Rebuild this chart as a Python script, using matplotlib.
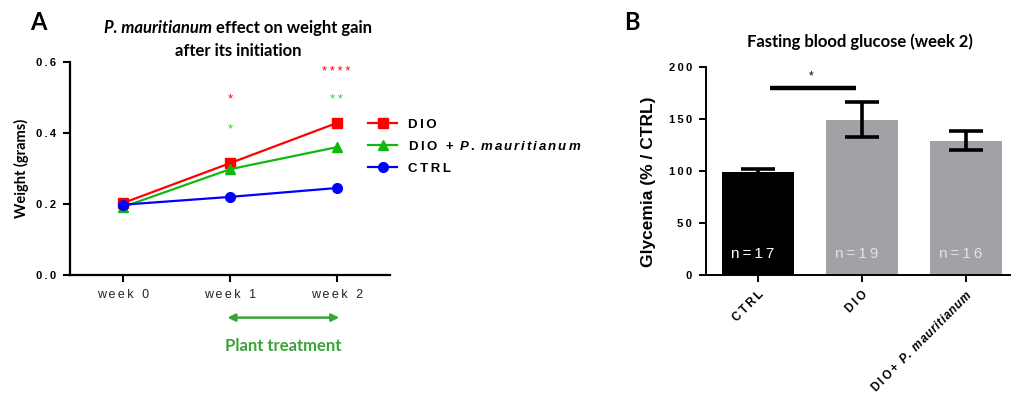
import matplotlib
matplotlib.use("Agg")
import matplotlib.pyplot as plt


# Fonts

plt.rcParams["font.family"] = ["Liberation Sans", "DejaVu Sans"]
plt.rcParams["mathtext.fontset"] = "custom"
plt.rcParams["mathtext.rm"] = "Liberation Sans:bold"
plt.rcParams["mathtext.it"] = "Liberation Sans:bold:italic"

title_font = ["Lato", "DejaVu Sans"]


# Panel A data: weight gain

weeks = ["week 0", "week 1", "week 2"]
dio_weight = [0.203, 0.315, 0.428]
dio_plant_weight = [0.192, 0.298, 0.360]
ctrl_weight = [0.198, 0.220, 0.245]

# significance marks (week index, height, text)
dio_stars = [(1, 0.495, "*"), (2, 0.572, "****")]
plant_stars = [(1, 0.410, "*"), (2, 0.493, "**")]


# Panel B data: fasting blood glucose

groups = ["CTRL", "DIO", "DIO+ P. mauritianum"]
glycemia = [99.0, 149.5, 129.0]
glycemia_err = [2.5, 17.0, 9.0]
n_mice = [17, 19, 16]


def spaced(text, gap="\u2009"):
    return gap.join(text)


def spaced_italic(text, gap=r"\hspace{0.07}"):
    # italic letter-spaced run inside mathtext
    words = [gap.join(w) for w in text.split(" ")]
    return r"$\mathit{" + r"\ ".join(words) + "}$"


red = "#ff0000"
green = "#10b810"
blue = "#0000ff"
star_green = "#33cc33"
bar_grey = "#a2a2a6"
plant_green = "#3ba33a"


fig = plt.figure(figsize=(10.11, 3.96), dpi=100)

W, H = 1011, 396


def px_axes(left, top, right, bottom):
    return fig.add_axes([
        left / W,
        1 - bottom / H,
        (right - left) / W,
        (bottom - top) / H
    ])


# Panel A

ax = px_axes(70, 62, 390, 275)

x = range(len(weeks))

ax.plot(x, dio_weight, color=red, marker="s", markersize=7,
        linewidth=1.6, label=spaced("DIO"), zorder=3)
ax.plot(x, dio_plant_weight, color=green, marker="^", markersize=7.5,
        linewidth=1.6,
        label=spaced("DIO + ") + spaced_italic("P. mauritianum",
                                               gap=r"\,"),
        zorder=3)
ax.plot(x, ctrl_weight, color=blue, marker="o", markersize=7,
        linewidth=1.6, label=spaced("CTRL"), zorder=4)

for i, y, s in dio_stars:
    ax.text(i, y, spaced(s), color=red, ha="center", va="center",
            fontsize=9.5)
for i, y, s in plant_stars:
    ax.text(i, y, spaced(s), color=star_green, ha="center",
            va="center", fontsize=9.5)

ax.set_xlim(-0.5, 2.5)
ax.set_ylim(0, 0.6)
ax.set_xticks(list(x))
ax.set_xticklabels([spaced(w) for w in weeks], fontsize=9,
                   color="#222222")
ax.set_yticks([0, 0.2, 0.4, 0.6])
ax.set_yticklabels([spaced(f"{v:.1f}") for v in [0, 0.2, 0.4, 0.6]],
                   fontsize=8, fontweight="bold")

for side in ["top", "right"]:
    ax.spines[side].set_visible(False)
for side in ["left", "bottom"]:
    ax.spines[side].set_linewidth(1.6)
ax.tick_params(width=1.5, length=5, pad=5)

ax.legend(loc="upper left", bbox_to_anchor=(0.895, 0.79),
          frameon=False, handlelength=2.2,
          prop={"weight": "bold", "size": 9.5}, labelspacing=0.7)

# Plant treatment arrow

ax.annotate(
    "",
    xy=(2.05, -0.20),
    xytext=(0.95, -0.20),
    xycoords=ax.get_xaxis_transform(),
    textcoords=ax.get_xaxis_transform(),
    arrowprops=dict(arrowstyle="<|-|>", color=plant_green, lw=1.8,
                    mutation_scale=11),
    annotation_clip=False
)
ax.text(1.5, -0.335, "Plant treatment", color=plant_green,
        transform=ax.get_xaxis_transform(), ha="center", va="center",
        fontsize=12, fontweight="bold", family=title_font)

fig.text(21 / W, 1 - 168 / H, "Weight (grams)", rotation=90,
         ha="center", va="center", fontsize=10.5, fontweight="bold",
         family=title_font)

# two-style first title line: italic species name, then plain text
title_size = 12
t1 = fig.text(0, 1 - 28 / H, "P. mauritianum", ha="left",
              va="center", fontsize=title_size, fontweight="bold",
              style="italic", family=title_font)
t2 = fig.text(0, 1 - 28 / H, " effect on weight gain", ha="left",
              va="center", fontsize=title_size, fontweight="bold",
              family=title_font)
fig.canvas.draw()
w1 = t1.get_window_extent().width
w2 = t2.get_window_extent().width
start = 238 - (w1 + w2) / 2
t1.set_x(start / W)
t2.set_x((start + w1) / W)

fig.text(238 / W, 1 - 51 / H, "after its initiation", ha="center",
         va="center", fontsize=title_size, fontweight="bold",
         family=title_font)

fig.text(38 / W, 1 - 22 / H, "A", ha="center", va="center",
         fontsize=17, fontweight="bold", family=title_font)


# Panel B

bx = px_axes(706, 67, 1018, 275)

positions = range(len(groups))
colors = ["black", bar_grey, bar_grey]

bx.bar(positions, glycemia, width=0.69, color=colors, zorder=2)
bx.errorbar(positions, glycemia, yerr=glycemia_err, fmt="none",
            ecolor="black", elinewidth=2.6, capsize=12, capthick=2.6,
            zorder=3)

n_colors = ["white", "#e2e2e2", "#e2e2e2"]
for i, n in enumerate(n_mice):
    bx.text(i - 0.05, 20, spaced(f"n={n}"), ha="center", va="center",
            color=n_colors[i], fontsize=11, zorder=4)

# significance bar CTRL vs DIO
bx.plot([0.115, 0.94], [180, 180], color="black", linewidth=3.2,
        solid_capstyle="butt")
bx.text(0.51, 191, "*", ha="center", va="center", fontsize=8.5)

bx.set_xlim(-0.5, 2.5)
bx.set_ylim(0, 200)
bx.set_xticks(list(positions))
tick_labels = [
    spaced("CTRL"),
    spaced("DIO"),
    spaced("DIO+ ") + spaced_italic("P. mauritianum")
]
bx.set_xticklabels(tick_labels, rotation=45, ha="right",
                   rotation_mode="anchor", fontsize=8.5,
                   fontweight="bold")
bx.set_yticks([0, 50, 100, 150, 200])
bx.set_yticklabels([spaced(str(v)) for v in [0, 50, 100, 150, 200]],
                   fontsize=8, fontweight="bold")

for side in ["top", "right"]:
    bx.spines[side].set_visible(False)
for side in ["left", "bottom"]:
    bx.spines[side].set_linewidth(1.4)
bx.tick_params(width=1.4, length=5, pad=5)

fig.text(649 / W, 1 - 182 / H, "Glycemia (% / CTRL)", rotation=90,
         ha="center", va="center", fontsize=12.5, fontweight="bold")
fig.text(860 / W, 1 - 42 / H, "Fasting blood glucose (week 2)",
         ha="center", va="center", fontsize=title_size,
         fontweight="bold", family=title_font)
fig.text(632 / W, 1 - 22 / H, "B", ha="center", va="center",
         fontsize=17, fontweight="bold", family=title_font)

fig.savefig("out.png", dpi=100)
